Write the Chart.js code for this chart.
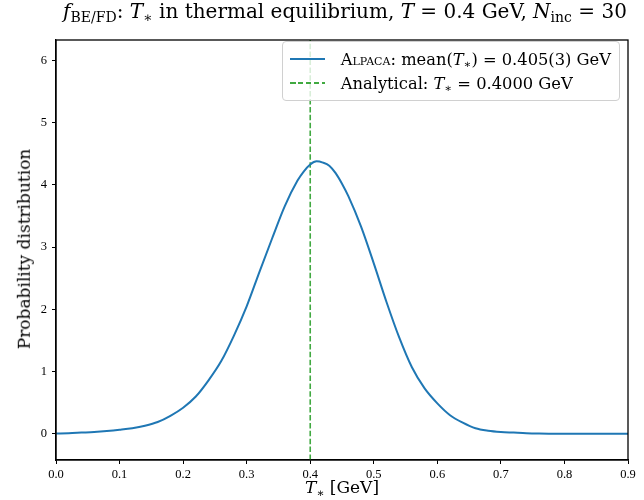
<!DOCTYPE html>
<html>
<head>
<meta charset="utf-8">
<script src="https://cdn.jsdelivr.net/npm/chart.js@4.4.1/dist/chart.umd.min.js"></script>
<style>
  html, body { margin: 0; padding: 0; background: #fff; }
  #wrap { position: relative; width: 644px; height: 500px; font-family: "DejaVu Serif", "Liberation Serif", serif; color: #000; }
  #c { position: absolute; left: 0; top: 0; }
  .ov { position: absolute; white-space: nowrap; line-height: 1.2; }
  #title { left: 345px; top: -1px; transform: translateX(-50%); font-size: 20px; }
  #xlab { left: 342px; top: 477px; transform: translateX(-50%); font-size: 17px; }
  #ylab { left: 24px; top: 249px; transform: translate(-50%, -50%) rotate(-90deg); font-size: 17px; }
  sub { font-size: 0.7em; vertical-align: -0.3em; line-height: 0; }
  .sc { font-variant: small-caps; }
  #legend { position: absolute; right: 24px; top: 41px; background: rgba(255,255,255,0.8); border: 1px solid #d0d0d0; border-radius: 4px; padding: 5px 8px 5px 7px; font-size: 16.3px; }
  #legend .row { display: flex; align-items: center; height: 24px; }
  #legend .sw { display: inline-block; width: 35px; margin-right: 16px; height: 2px; }
</style>
</head>
<body>
<div id="wrap">
  <canvas id="c" width="644" height="500"></canvas>
  <div class="ov" id="title"><i>f</i><sub>BE/FD</sub>: <i>T</i><sub>∗</sub> in thermal equilibrium, <i>T</i> = 0.4 GeV, <i>N</i><sub>inc</sub> = 30</div>
  <div class="ov" id="xlab"><i>T</i><sub>∗</sub> [GeV]</div>
  <div class="ov" id="ylab">Probability distribution</div>
  <div id="legend"></div>
</div>
<script>
// ---- data ----
const tStar = [0.00,0.02,0.04,0.06,0.08,0.10,0.12,0.14,0.16,0.18,0.20,0.22,0.24,0.26,0.28,0.30,0.32,0.34,0.36,0.38,0.39,0.40,0.41,0.42,0.43,0.44,0.45,0.46,0.48,0.50,0.52,0.54,0.56,0.58,0.60,0.62,0.64,0.66,0.68,0.70,0.72,0.74,0.76,0.78,0.80,0.82,0.84,0.86,0.88,0.90];
const alpacaDensity = [0.005,0.01,0.02,0.03,0.045,0.065,0.09,0.13,0.19,0.29,0.42,0.60,0.86,1.17,1.58,2.05,2.60,3.14,3.66,4.07,4.22,4.33,4.38,4.36,4.31,4.19,4.02,3.82,3.33,2.74,2.12,1.55,1.07,0.73,0.49,0.30,0.18,0.09,0.05,0.03,0.02,0.01,0.005,0.003,0.002,0.002,0.002,0.002,0.002,0.002];
const analyticalT = 0.4;
const xTicks = [0.0,0.1,0.2,0.3,0.4,0.5,0.6,0.7,0.8,0.9];
const yTicks = [0,1,2,3,4,5,6];
const seriesLabels = ['ALPACA: mean(T∗) = 0.405(3) GeV', 'Analytical: T∗ = 0.4000 GeV'];
const legendHtml = ['<span class="sc">Alpaca</span>: mean(<i>T</i><sub>∗</sub>) = 0.405(3) GeV', 'Analytical: <i>T</i><sub>∗</sub> = 0.4000 GeV'];

const X_MIN = 0, X_MAX = 0.9, Y_MIN = -0.42, Y_MAX = 6.33;
const TICK_FONT = '"Liberation Serif", "DejaVu Serif", serif';

const framePlugin = {
  id: 'frame',
  afterDraw(chart) {
    const a = chart.chartArea, ctx = chart.ctx;
    ctx.save();
    ctx.strokeStyle = '#000';
    ctx.lineWidth = 1.3;
    ctx.strokeRect(a.left, a.top, a.right - a.left, a.bottom - a.top);
    ctx.restore();
  }
};

const htmlLegend = {
  id: 'htmlLegend',
  afterUpdate(chart) {
    const box = document.getElementById('legend');
    box.innerHTML = '';
    chart.data.datasets.forEach((ds, i) => {
      const row = document.createElement('div');
      row.className = 'row';
      const sw = document.createElement('span');
      sw.className = 'sw';
      if (ds.borderDash) {
        const on = ds.borderDash[0], off = ds.borderDash[1];
        sw.style.background = `repeating-linear-gradient(to right, ${ds.borderColor} 0px, ${ds.borderColor} ${on}px, transparent ${on}px, transparent ${on + off}px)`;
        sw.style.height = ds.borderWidth + 'px';
      } else {
        sw.style.background = ds.borderColor;
        sw.style.height = ds.borderWidth + 'px';
      }
      const tx = document.createElement('span');
      tx.innerHTML = legendHtml[i];
      row.appendChild(sw); row.appendChild(tx);
      box.appendChild(row);
    });
  }
};

new Chart(document.getElementById('c'), {
  type: 'line',
  data: {
    datasets: [
      {
        label: seriesLabels[0],
        data: tStar.map((x, i) => ({ x: x, y: alpacaDensity[i] })),
        borderColor: '#1f77b4',
        borderWidth: 2,
        pointRadius: 0,
        cubicInterpolationMode: 'monotone',
        fill: false
      },
      {
        label: seriesLabels[1],
        data: [{ x: analyticalT, y: Y_MIN }, { x: analyticalT, y: Y_MAX }],
        borderColor: 'rgba(44,160,44,0.9)',
        borderWidth: 1.6,
        borderDash: [5.5, 2.4],
        pointRadius: 0,
        fill: false
      }
    ]
  },
  options: {
    responsive: false,
    devicePixelRatio: 1,
    animation: false,
    layout: { padding: { top: 40, right: 16, bottom: 0, left: 0 } },
    plugins: { legend: { display: false }, title: { display: false }, tooltip: { enabled: false } },
    scales: {
      x: {
        type: 'linear', min: X_MIN, max: X_MAX,
        afterBuildTicks: s => { s.ticks = xTicks.map(v => ({ value: v })); },
        afterFit: s => { s.height = 40; },
        ticks: { callback: v => Number(v).toFixed(1), color: '#000', font: { family: TICK_FONT, size: 12.5 }, padding: 3, maxRotation: 0, autoSkip: false },
        grid: { drawOnChartArea: false, color: '#000', tickLength: 4, tickWidth: 1 },
        border: { color: '#000', width: 1.3 }
      },
      y: {
        type: 'linear', min: Y_MIN, max: Y_MAX,
        afterBuildTicks: s => { s.ticks = yTicks.map(v => ({ value: v })); },
        afterFit: s => { s.width = 56; },
        ticks: { callback: v => String(v), color: '#000', font: { family: TICK_FONT, size: 12.5 }, padding: 5 },
        grid: { drawOnChartArea: false, color: '#000', tickLength: 4, tickWidth: 1 },
        border: { color: '#000', width: 1.3 }
      }
    }
  },
  plugins: [framePlugin, htmlLegend]
});
</script>
</body>
</html>
